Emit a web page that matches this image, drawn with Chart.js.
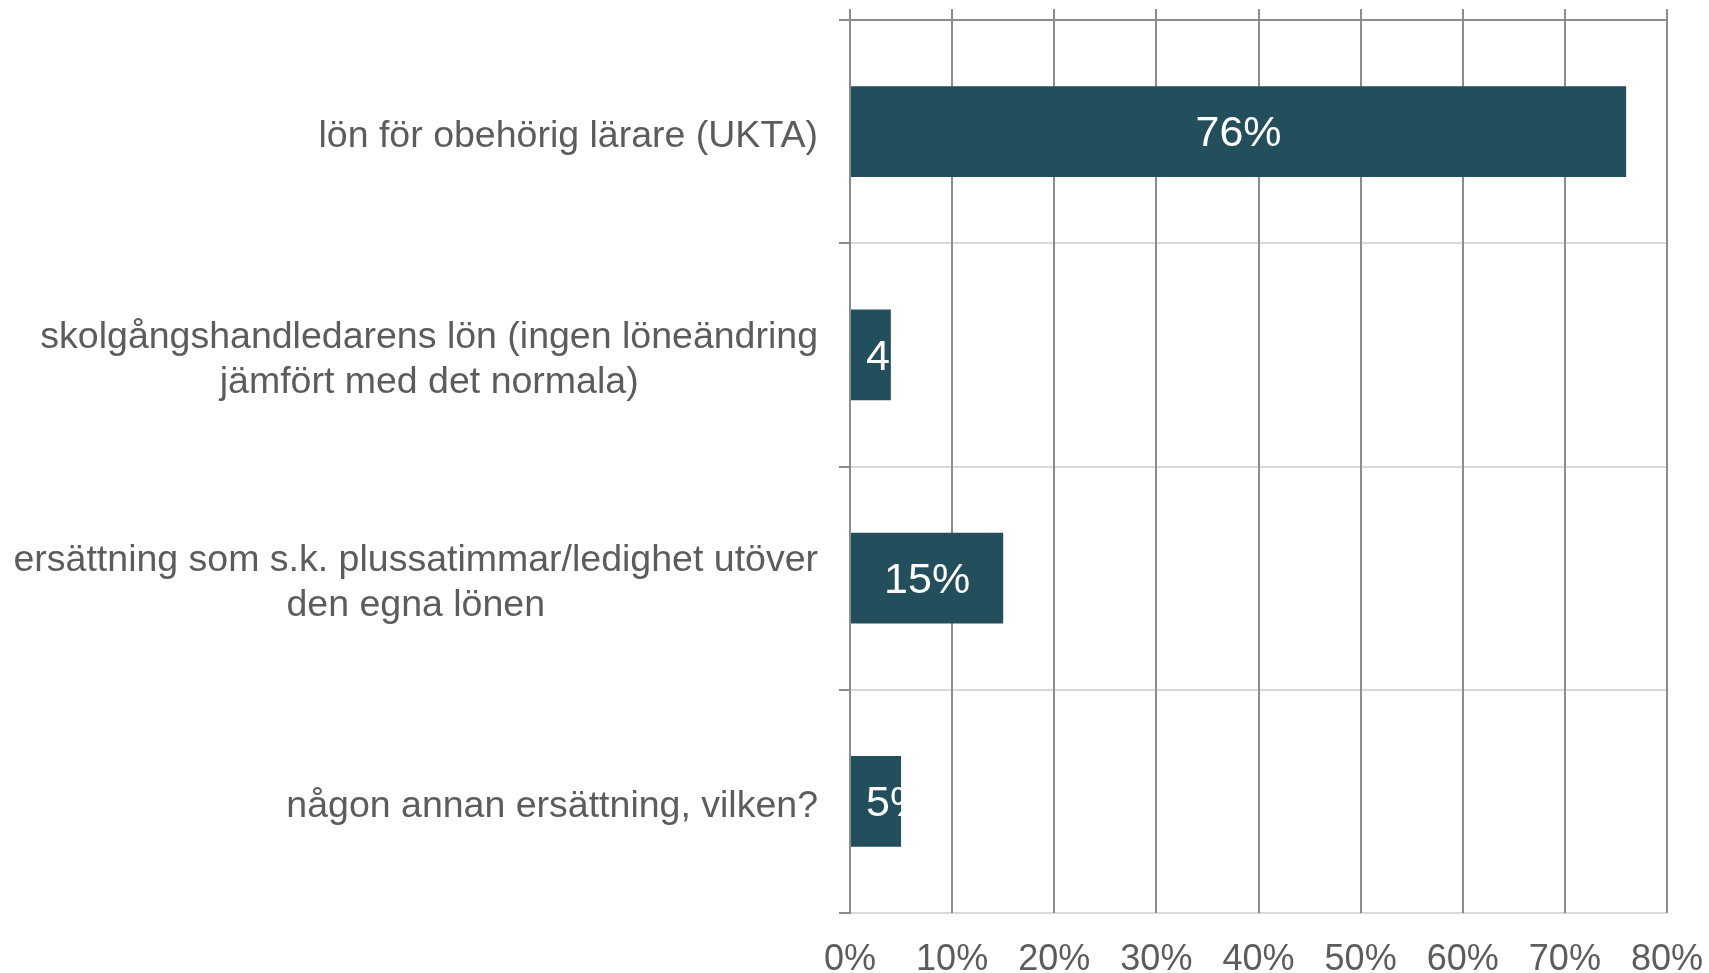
<!DOCTYPE html>
<html>
<head>
<meta charset="utf-8">
<script src="https://cdn.jsdelivr.net/npm/chart.js@4/dist/chart.umd.min.js"></script>
<style>
  body { margin: 0; background: #ffffff; }
  #wrap { width: 1709px; height: 973px; position: relative; }
</style>
</head>
<body>
<div id="wrap"><canvas id="chart"></canvas></div>
<script>
const categories = [
  ["lön för obehörig lärare (UKTA)"],
  ["skolgångshandledarens lön (ingen löneändring", "jämfört med det normala)"],
  ["ersättning som s.k. plussatimmar/ledighet utöver", "den egna lönen"],
  ["någon annan ersättning, vilken?"],
];
const values = [76, 4, 15, 5];
const xTicks = [0, 10, 20, 30, 40, 50, 60, 70, 80];

const FONT = "'Liberation Sans', Arial, sans-serif";
const TEXT_GRAY = "#5c5c5c";
const DARK_LINE = "#8c8c8c";
const LIGHT_LINE = "#d9d9d9";
const BAR_COLOR = "#234e5b";

// category labels: block right aligned, lines centered inside the block
const categoryLabels = {
  id: "categoryLabels",
  afterDraw(chart) {
    const ctx = chart.ctx;
    const yScale = chart.scales.y;
    const lineH = 45;
    const right = yScale.right - 11 - 21;
    ctx.save();
    ctx.font = "37.5px " + FONT;
    ctx.fillStyle = TEXT_GRAY;
    ctx.textAlign = "center";
    ctx.textBaseline = "middle";
    categories.forEach(function (lines, i) {
      const y = yScale.getPixelForTick(i);
      let blockW = 0;
      lines.forEach(function (l) {
        blockW = Math.max(blockW, ctx.measureText(l).width);
      });
      const cx = right - blockW / 2;
      lines.forEach(function (l, j) {
        ctx.fillText(l, cx, y + 5 + (j - (lines.length - 1) / 2) * lineH);
      });
    });
    ctx.restore();
  },
};

// white value labels inside the bars, clipped to the bar
const barLabels = {
  id: "barLabels",
  afterDatasetsDraw(chart) {
    const ctx = chart.ctx;
    const meta = chart.getDatasetMeta(0);
    const area = chart.chartArea;
    ctx.save();
    ctx.font = "43px " + FONT;
    ctx.fillStyle = "#ffffff";
    ctx.textAlign = "center";
    ctx.textBaseline = "middle";
    meta.data.forEach(function (bar, i) {
      const text = values[i] + "%";
      const w = ctx.measureText(text).width;
      const left = Math.min(bar.base, bar.x);
      const right = Math.max(bar.base, bar.x);
      const top = bar.y - bar.height / 2;
      let cx = (left + right) / 2;
      cx = Math.max(cx, area.left + 16 + w / 2);
      ctx.save();
      ctx.beginPath();
      ctx.rect(left, top, right - left, bar.height);
      ctx.clip();
      ctx.fillText(text, cx, bar.y + 3);
      ctx.restore();
    });
    ctx.restore();
  },
};

const data = {
  labels: categories,
  datasets: [
    {
      label: "Andel",
      data: values,
      backgroundColor: BAR_COLOR,
      barPercentage: 0.406,
      categoryPercentage: 1,
    },
  ],
};

new Chart(document.getElementById("chart"), {
  type: "bar",
  data: data,
  plugins: [categoryLabels, barLabels],
  options: {
    indexAxis: "y",
    responsive: true,
    maintainAspectRatio: false,
    animation: false,
    layout: { padding: { top: 9, right: 42, left: 0, bottom: 0 } },
    plugins: {
      legend: { display: false },
      tooltip: { enabled: false },
    },
    scales: {
      y: {
        type: "category",
        position: "left",
        afterFit: function (scale) {
          scale.width = 850;
        },
        ticks: { display: false },
        grid: {
          offset: true,
          color: function (c) {
            return c.index === 0 ? DARK_LINE : LIGHT_LINE;
          },
          lineWidth: 2,
          tickColor: DARK_LINE,
          tickLength: 11,
        },
        border: { color: DARK_LINE, width: 2 },
      },
      x: {
        type: "linear",
        position: "top",
        min: xTicks[0],
        max: xTicks[xTicks.length - 1],
        ticks: { display: false, stepSize: 10 },
        grid: { color: DARK_LINE, lineWidth: 2, tickColor: DARK_LINE, tickLength: 11 },
        border: { color: DARK_LINE, width: 2 },
      },
      x2: {
        type: "linear",
        position: "bottom",
        min: xTicks[0],
        max: xTicks[xTicks.length - 1],
        afterBuildTicks: function (scale) {
          scale.ticks = xTicks.map(function (v) { return { value: v }; });
        },
        afterFit: function (scale) {
          scale.height = 60;
        },
        ticks: {
          padding: 0,
          color: TEXT_GRAY,
          font: { family: FONT, size: 36, lineHeight: 2.6 },
          maxRotation: 0,
          callback: function (v) { return v + "%"; },
        },
        grid: { display: false, drawTicks: false },
        border: { display: false },
      },
    },
  },
});
</script>
</body>
</html>
